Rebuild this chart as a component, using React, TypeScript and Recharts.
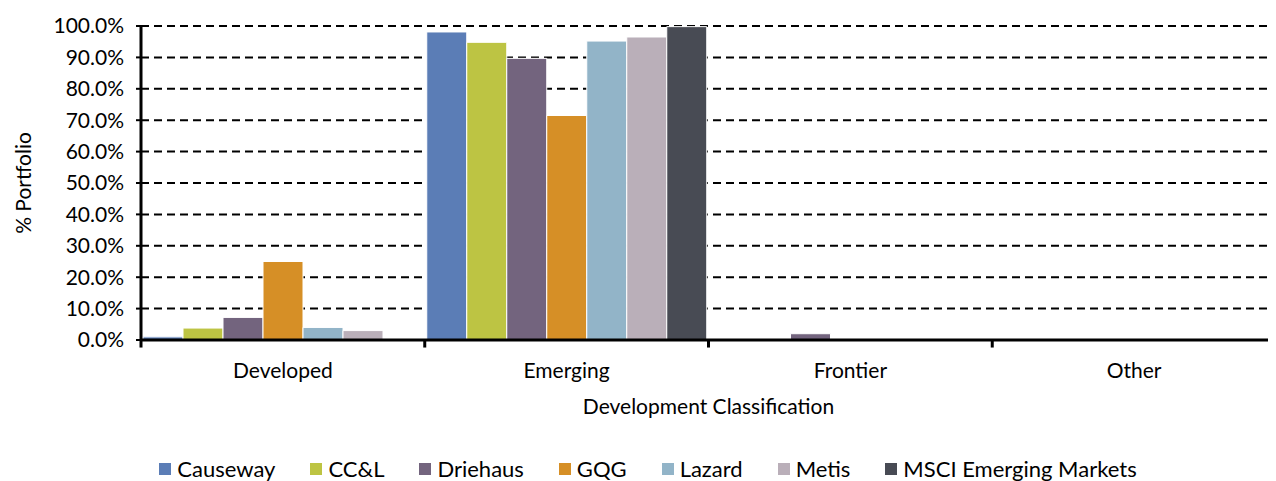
import {
  Bar,
  BarChart,
  CartesianGrid,
  Legend,
  ReferenceLine,
  XAxis,
  YAxis,
} from "recharts";

const categories = ["Developed", "Emerging", "Frontier", "Other"];

const causeway = [1.0, 98.1, 0, 0];
const ccl = [3.8, 94.8, 0.1, 0];
const driehaus = [7.2, 89.7, 2.0, 0];
const gqg = [25.0, 71.5, 0.1, 0];
const lazard = [4.0, 95.2, 0, 0];
const metis = [3.0, 96.5, 0, 0];
const msci = [0, 99.8, 0, 0];

const yTicks = [0, 10, 20, 30, 40, 50, 60, 70, 80, 90, 100];

const series = [
  { key: "causeway", name: "Causeway", color: "#5B7DB6", values: causeway },
  { key: "ccl", name: "CC&L", color: "#BDC443", values: ccl },
  { key: "driehaus", name: "Driehaus", color: "#73647E", values: driehaus },
  { key: "gqg", name: "GQG", color: "#D68F26", values: gqg },
  { key: "lazard", name: "Lazard", color: "#92B4C8", values: lazard },
  { key: "metis", name: "Metis", color: "#BAAFB9", values: metis },
  { key: "msci", name: "MSCI Emerging Markets", color: "#484B54", values: msci },
];

const data = categories.map((name, i) => {
  const row: Record<string, string | number> = { name };
  series.forEach((s) => {
    row[s.key] = s.values[i];
  });
  return row;
});

const FONT = "Lato, sans-serif";

function LegendRow() {
  return (
    <div
      style={{
        display: "flex",
        justifyContent: "center",
        gap: 35,
        fontFamily: FONT,
        fontSize: 22,
        lineHeight: "25px",
        color: "#000",
        paddingLeft: 12,
      }}
    >
      {series.map((s) => (
        <div key={s.key} style={{ display: "flex", alignItems: "center" }}>
          <span
            style={{
              width: 12,
              height: 12,
              background: s.color,
              marginRight: 6,
              display: "inline-block",
            }}
          />
          <span>{s.name}</span>
        </div>
      ))}
    </div>
  );
}

export default function App() {
  return (
    <div style={{ width: 1268, height: 473 }}>
      <BarChart
        width={1268}
        height={473}
        data={data}
        margin={{ top: 18, right: 0, left: 0, bottom: 0 }}
        barCategoryGap={2}
        barGap={0}
      >
        <CartesianGrid
          vertical={false}
          stroke="#000"
          strokeWidth={2}
          strokeDasharray="8 5"
        />
        <XAxis
          dataKey="name"
          axisLine={{ stroke: "#000", strokeWidth: 3 }}
          tickLine={false}
          height={116}
          tick={{ fontFamily: FONT, fontSize: 21, fill: "#000" }}
          dy={15}
          label={{
            value: "Development Classification",
            position: "insideTop",
            offset: 59,
            style: { fontFamily: FONT, fontSize: 21, fill: "#000" },
          }}
        />
        <YAxis
          domain={[0, 100]}
          ticks={yTicks}
          interval={0}
          width={133}
          allowDataOverflow
          tickFormatter={(v) => `${v.toFixed(1)}%`}
          axisLine={{ stroke: "#000", strokeWidth: 3 }}
          tickLine={{ stroke: "#000", strokeWidth: 2 }}
          tickSize={5}
          tickMargin={12}
          tick={{ fontFamily: FONT, fontSize: 21, fill: "#000" }}
          label={{
            value: "% Portfolio",
            angle: -90,
            position: "insideLeft",
            offset: 16,
            style: { fontFamily: FONT, fontSize: 21, fill: "#000", textAnchor: "middle" },
          }}
        />
        <Legend verticalAlign="bottom" content={() => <LegendRow />} />
        {series.map((s) => (
          <Bar
            key={s.key}
            dataKey={s.key}
            name={s.name}
            fill={s.color}
            stroke="#fff"
            strokeWidth={1}
            isAnimationActive={false}
          />
        ))}
        {/* separator ticks at the start of each category band */}
        {categories.map((c) => (
          <ReferenceLine
            key={c}
            segment={[
              { x: c, y: 0 },
              { x: c, y: -2.4 },
            ]}
            position="start"
            ifOverflow="visible"
            stroke="#000"
            strokeWidth={3}
          />
        ))}
      </BarChart>
    </div>
  );
}
